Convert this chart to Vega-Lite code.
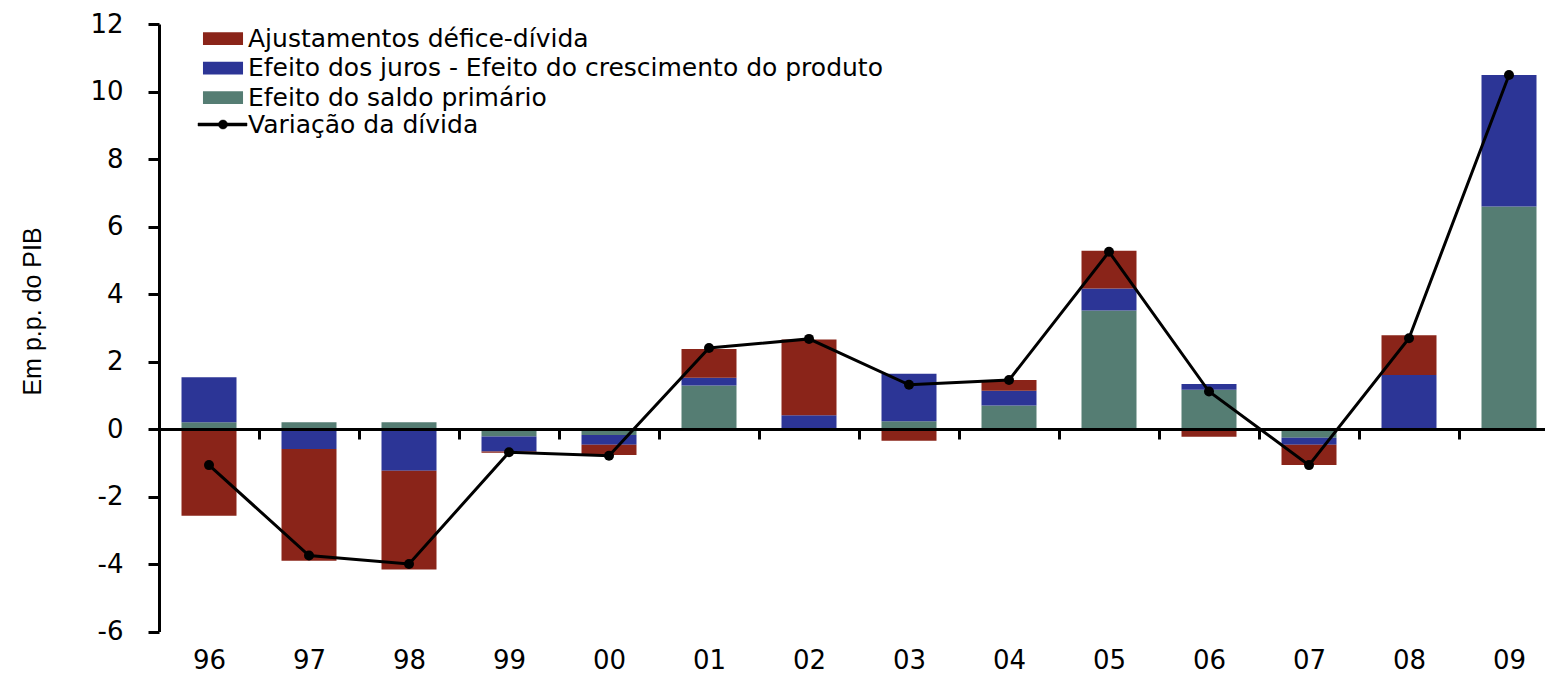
{
  "$schema": "https://vega.github.io/schema/vega-lite/v6.json",
  "width": 1386,
  "height": 607.5,
  "autosize": {"type": "none"},
  "padding": {"left": 159, "top": 24, "right": 0, "bottom": 41.5},
  "background": "white",
  "config": {"view": {"stroke": null}, "font": "DejaVu Sans"},
  "datasets": {
    "comp": [
      {"ano": "96", "componente": "Efeito do saldo primário", "ordem": 1, "valor": 0.2},
      {"ano": "96", "componente": "Efeito dos juros - Efeito do crescimento do produto", "ordem": 2, "valor": 1.33},
      {"ano": "96", "componente": "Ajustamentos défice-dívida", "ordem": 3, "valor": -2.57},
      {"ano": "97", "componente": "Efeito do saldo primário", "ordem": 1, "valor": 0.2},
      {"ano": "97", "componente": "Efeito dos juros - Efeito do crescimento do produto", "ordem": 2, "valor": -0.59},
      {"ano": "97", "componente": "Ajustamentos défice-dívida", "ordem": 3, "valor": -3.31},
      {"ano": "98", "componente": "Efeito do saldo primário", "ordem": 1, "valor": 0.2},
      {"ano": "98", "componente": "Efeito dos juros - Efeito do crescimento do produto", "ordem": 2, "valor": -1.24},
      {"ano": "98", "componente": "Ajustamentos défice-dívida", "ordem": 3, "valor": -2.92},
      {"ano": "99", "componente": "Efeito do saldo primário", "ordem": 1, "valor": -0.22},
      {"ano": "99", "componente": "Efeito dos juros - Efeito do crescimento do produto", "ordem": 2, "valor": -0.45},
      {"ano": "99", "componente": "Ajustamentos défice-dívida", "ordem": 3, "valor": -0.03},
      {"ano": "00", "componente": "Efeito do saldo primário", "ordem": 1, "valor": -0.18},
      {"ano": "00", "componente": "Efeito dos juros - Efeito do crescimento do produto", "ordem": 2, "valor": -0.29},
      {"ano": "00", "componente": "Ajustamentos défice-dívida", "ordem": 3, "valor": -0.3},
      {"ano": "01", "componente": "Efeito do saldo primário", "ordem": 1, "valor": 1.29},
      {"ano": "01", "componente": "Efeito dos juros - Efeito do crescimento do produto", "ordem": 2, "valor": 0.23},
      {"ano": "01", "componente": "Ajustamentos défice-dívida", "ordem": 3, "valor": 0.85},
      {"ano": "02", "componente": "Efeito do saldo primário", "ordem": 1, "valor": 0.02},
      {"ano": "02", "componente": "Efeito dos juros - Efeito do crescimento do produto", "ordem": 2, "valor": 0.39},
      {"ano": "02", "componente": "Ajustamentos défice-dívida", "ordem": 3, "valor": 2.24},
      {"ano": "03", "componente": "Efeito do saldo primário", "ordem": 1, "valor": 0.23},
      {"ano": "03", "componente": "Efeito dos juros - Efeito do crescimento do produto", "ordem": 2, "valor": 1.41},
      {"ano": "03", "componente": "Ajustamentos défice-dívida", "ordem": 3, "valor": -0.35},
      {"ano": "04", "componente": "Efeito do saldo primário", "ordem": 1, "valor": 0.7},
      {"ano": "04", "componente": "Efeito dos juros - Efeito do crescimento do produto", "ordem": 2, "valor": 0.43},
      {"ano": "04", "componente": "Ajustamentos défice-dívida", "ordem": 3, "valor": 0.32},
      {"ano": "05", "componente": "Efeito do saldo primário", "ordem": 1, "valor": 3.51},
      {"ano": "05", "componente": "Efeito dos juros - Efeito do crescimento do produto", "ordem": 2, "valor": 0.65},
      {"ano": "05", "componente": "Ajustamentos défice-dívida", "ordem": 3, "valor": 1.12},
      {"ano": "06", "componente": "Efeito do saldo primário", "ordem": 1, "valor": 1.16},
      {"ano": "06", "componente": "Efeito dos juros - Efeito do crescimento do produto", "ordem": 2, "valor": 0.17},
      {"ano": "06", "componente": "Ajustamentos défice-dívida", "ordem": 3, "valor": -0.23},
      {"ano": "07", "componente": "Efeito do saldo primário", "ordem": 1, "valor": -0.26},
      {"ano": "07", "componente": "Efeito dos juros - Efeito do crescimento do produto", "ordem": 2, "valor": -0.21},
      {"ano": "07", "componente": "Ajustamentos défice-dívida", "ordem": 3, "valor": -0.6},
      {"ano": "08", "componente": "Efeito do saldo primário", "ordem": 1, "valor": -0.05},
      {"ano": "08", "componente": "Efeito dos juros - Efeito do crescimento do produto", "ordem": 2, "valor": 1.6},
      {"ano": "08", "componente": "Ajustamentos défice-dívida", "ordem": 3, "valor": 1.18},
      {"ano": "09", "componente": "Efeito do saldo primário", "ordem": 1, "valor": 6.59},
      {"ano": "09", "componente": "Efeito dos juros - Efeito do crescimento do produto", "ordem": 2, "valor": 3.9},
      {"ano": "09", "componente": "Ajustamentos défice-dívida", "ordem": 3, "valor": 0.0}
    ],
    "variacao": [
      {"ano": "96", "valor": -1.07},
      {"ano": "97", "valor": -3.75},
      {"ano": "98", "valor": -4.0},
      {"ano": "99", "valor": -0.69},
      {"ano": "00", "valor": -0.79},
      {"ano": "01", "valor": 2.4},
      {"ano": "02", "valor": 2.67},
      {"ano": "03", "valor": 1.31},
      {"ano": "04", "valor": 1.45},
      {"ano": "05", "valor": 5.25},
      {"ano": "06", "valor": 1.11},
      {"ano": "07", "valor": -1.07},
      {"ano": "08", "valor": 2.69},
      {"ano": "09", "valor": 10.49}
    ]
  },
  "encoding": {
    "x": {
      "field": "ano",
      "type": "nominal",
      "scale": {
        "domain": ["96", "97", "98", "99", "00", "01", "02", "03", "04", "05", "06", "07", "08", "09"],
        "paddingInner": 0.45,
        "paddingOuter": 0.155,
        "align": 0.726
      },
      "axis": {
        "title": null,
        "orient": "bottom",
        "offset": -202.5,
        "zindex": 1,
        "grid": false,
        "domainColor": "black",
        "domainWidth": 3,
        "tickColor": "black",
        "tickWidth": 3,
        "tickSize": 10,
        "tickOffset": 50,
        "labelOffset": -50,
        "labelAngle": 0,
        "labelPadding": 208,
        "labelFontSize": 26,
        "labelFont": "DejaVu Sans",
        "labelColor": "black"
      }
    },
    "y": {
      "type": "quantitative",
      "scale": {"domain": [-6, 12], "nice": false, "zero": false},
      "axis": {
        "title": "Em p.p. do PIB",
        "titleFont": "Liberation Sans",
        "titleFontSize": 25,
        "titleFontWeight": "normal",
        "titleColor": "black",
        "titlePadding": 44,
        "titleY": 287,
        "values": [-6, -4, -2, 0, 2, 4, 6, 8, 10, 12],
        "labelExpr": "replace(datum.label, '\u2212', '-')",
        "grid": false,
        "domainColor": "black",
        "domainWidth": 3,
        "tickColor": "black",
        "tickWidth": 3,
        "tickSize": 11,
        "labelPadding": 25,
        "labelFontSize": 26,
        "labelFont": "DejaVu Sans",
        "labelColor": "black"
      }
    }
  },
  "layer": [
    {
      "data": {"name": "comp"},
      "mark": {"type": "bar", "opacity": 1},
      "encoding": {
        "y": {"field": "valor", "stack": "zero"},
        "order": {"field": "ordem", "type": "quantitative", "sort": "ascending"},
        "color": {
          "field": "componente",
          "type": "nominal",
          "scale": {
            "domain": ["Ajustamentos défice-dívida", "Efeito dos juros - Efeito do crescimento do produto", "Efeito do saldo primário"],
            "range": ["#8a2419", "#2c3596", "#557d73"]
          },
          "legend": {
            "title": null,
            "orient": "none",
            "legendX": 51.5,
            "legendY": 2,
            "padding": 0,
            "symbolType": "M-2.67,-0.85H2.67V0.85H-2.67Z",
            "symbolSize": 225,
            "symbolStrokeWidth": 0,
            "symbolOpacity": 1,
            "labelOffset": 12.5,
            "rowPadding": 3.5,
            "labelFont": "DejaVu Sans",
            "labelFontSize": 25,
            "labelColor": "black",
            "labelLimit": 1200
          }
        }
      }
    },
    {
      "data": {"name": "variacao"},
      "mark": {"type": "line", "color": "black", "strokeWidth": 3},
      "encoding": {
        "y": {"field": "valor"},
        "stroke": {
          "datum": "Variação da dívida",
          "scale": {"range": ["black"]},
          "legend": {
            "title": null,
            "orient": "none",
            "legendX": 51.5,
            "legendY": 88,
            "padding": 0,
            "symbolType": "M-3.33,-0.2H3.2V0.2H-3.33Z M-0.6,0A0.6,0.6 0 1,1 0.6,0A0.6,0.6 0 1,1 -0.6,0Z",
            "symbolSize": 225,
            "labelOffset": 12.5,
            "labelFont": "DejaVu Sans",
            "labelFontSize": 25,
            "labelColor": "black",
            "labelLimit": 1200,
            "encode": {"symbols": {"update": {"fill": {"value": "black"}, "stroke": {"value": "black"}, "strokeWidth": {"value": 0.5}, "opacity": {"value": 1}}}}
          }
        }
      }
    },
    {
      "data": {"name": "variacao"},
      "mark": {"type": "point", "filled": true, "color": "black", "size": 100, "opacity": 1},
      "encoding": {"y": {"field": "valor"}}
    }
  ]
}
